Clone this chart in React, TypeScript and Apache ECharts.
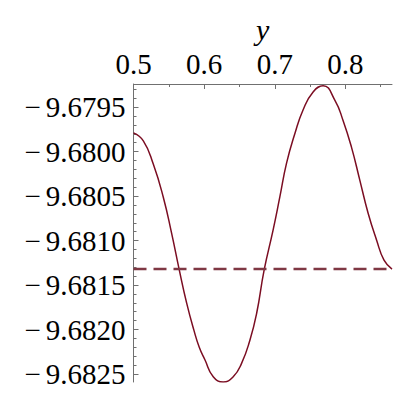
import React, { useEffect, useRef } from "react";
import * as echarts from "echarts";

const xValues = [0.5, 0.5139, 0.528, 0.5421, 0.554, 0.5648, 0.5752, 0.5856, 0.5931, 0.6011, 0.6129, 0.627, 0.6412, 0.653, 0.6648, 0.6743, 0.685, 0.6977, 0.7072, 0.7167, 0.7284, 0.7402, 0.7543, 0.7685, 0.785, 0.7967, 0.8086, 0.8204, 0.8321, 0.844, 0.8547, 0.866];
const yValues = [-9.67979, -9.67988, -9.68014, -9.68051, -9.68092, -9.68133, -9.6817, -9.68201, -9.6822, -9.68234, -9.68253, -9.68259, -9.68253, -9.68238, -9.68212, -9.68182, -9.68133, -9.68088, -9.68051, -9.68013, -9.6798, -9.67953, -9.67933, -9.67926, -9.67942, -9.67965, -9.67995, -9.68032, -9.68069, -9.68099, -9.68122, -9.68132];
const refLevel = -9.68132;
const xMajorTicks = [0.5, 0.6, 0.7, 0.8];
const xMinorTicks = [0.55, 0.65, 0.75, 0.85];
const yMajorTicks = [-9.6825, -9.682, -9.6815, -9.681, -9.6805, -9.68, -9.6795];
const yMinorTicks = [-9.6825, -9.6824, -9.6823, -9.6822, -9.6821, -9.682, -9.6819, -9.6818, -9.6817, -9.6816, -9.6815, -9.6814, -9.6813, -9.6812, -9.6811, -9.681, -9.6809, -9.6808, -9.6807, -9.6806, -9.6805, -9.6804, -9.6803, -9.6802, -9.6801, -9.68, -9.6799, -9.6798, -9.6797, -9.6796, -9.6795, -9.6794, -9.6793];
const xMin = 0.5;
const xMax = 0.866;
const yMin = -9.68259;
const yMax = -9.67924;

const FONT = "Liberation Serif";
const AXIS_COLOR = "#707070";

export default function App() {
  const ref = useRef<HTMLDivElement>(null);
  useEffect(() => {
    if (!ref.current) return;
    const chart = echarts.init(ref.current, null, { renderer: "svg" });
    const curve = xValues.map((x, i) => [x, yValues[i]]);
    chart.setOption({
      animation: false,
      backgroundColor: "#ffffff",
      grid: { left: 133.5, right: 8, top: 84, bottom: 18, containLabel: false },
      xAxis: [
        {
          type: "value",
          position: "top",
          min: xMin,
          max: xMax,
          name: "y",
          nameLocation: "middle",
          nameGap: 39,
          nameTextStyle: { fontFamily: FONT, fontStyle: "italic", fontSize: 30, color: "#000" },
          axisLine: { show: true, lineStyle: { color: AXIS_COLOR, width: 1 } },
          axisTick: { show: true, inside: true, length: 5, customValues: xMajorTicks, lineStyle: { color: AXIS_COLOR } },
          axisLabel: {
            show: true,
            customValues: xMajorTicks,
            margin: 6,
            fontFamily: FONT,
            fontSize: 29,
            color: "#000",
            formatter: (v: number) => v.toFixed(1),
          },
          splitLine: { show: false },
        },
        {
          type: "value",
          position: "top",
          min: xMin,
          max: xMax,
          axisLine: { show: false },
          axisTick: { show: true, inside: true, length: 3, customValues: xMinorTicks, lineStyle: { color: AXIS_COLOR } },
          axisLabel: { show: false },
          splitLine: { show: false },
        },
      ],
      yAxis: [
        {
          type: "value",
          position: "left",
          min: yMin,
          max: yMax,
          axisLine: { show: true, lineStyle: { color: AXIS_COLOR, width: 1 } },
          axisTick: { show: true, inside: true, length: 5, customValues: yMajorTicks, lineStyle: { color: AXIS_COLOR } },
          axisLabel: {
            show: true,
            customValues: yMajorTicks,
            margin: 8,
            fontFamily: FONT,
            fontSize: 29,
            color: "#000",
            formatter: (v: number) => "\u2212\u2006" + Math.abs(v).toFixed(4),
          },
          splitLine: { show: false },
        },
        {
          type: "value",
          position: "left",
          min: yMin,
          max: yMax,
          axisLine: { show: false },
          axisTick: { show: true, inside: true, length: 3, customValues: yMinorTicks, lineStyle: { color: AXIS_COLOR } },
          axisLabel: { show: false },
          splitLine: { show: false },
        },
      ],
      series: [
        {
          type: "line",
          data: curve,
          xAxisIndex: 0,
          yAxisIndex: 0,
          smooth: 0.5,
          showSymbol: false,
          symbol: "none",
          lineStyle: { color: "#7b0d22", width: 1.5 },
        },
        {
          type: "line",
          data: [
            [xMin, refLevel],
            [xMax, refLevel],
          ],
          xAxisIndex: 0,
          yAxisIndex: 0,
          showSymbol: false,
          symbol: "none",
          lineStyle: { color: "#7f3844", width: 2.5, type: [13, 7] },
        },
      ],
    });
    return () => chart.dispose();
  }, []);
  return <div ref={ref} style={{ width: 400, height: 400, position: "absolute", left: 0, top: 0 }} />;
}
